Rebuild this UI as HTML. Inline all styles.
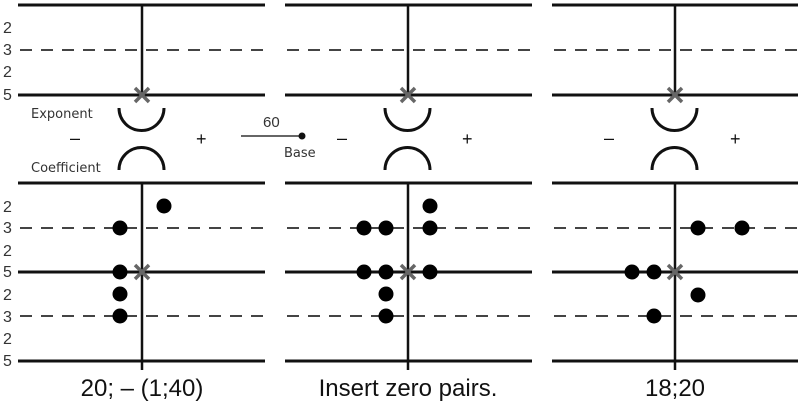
<!DOCTYPE html>
<html><head><meta charset="utf-8"><style>body{margin:0;background:#fff}svg{display:block}</style></head><body>
<svg width="800" height="407" viewBox="0 0 800 407" xmlns="http://www.w3.org/2000/svg" font-family="Liberation Sans, sans-serif">
<defs>
<g id="x"><path d="M-7,-7L7,7M7,-7L-7,7" stroke="#666" stroke-width="3.5"/></g>
</defs>
<g fill="#333" font-size="16">
<text x="3" y="33">2</text><text x="3" y="55">3</text><text x="3" y="77">2</text><text x="3" y="100">5</text>
<text x="3" y="212">2</text><text x="3" y="233">3</text><text x="3" y="256">2</text><text x="3" y="277">5</text>
<text x="3" y="300">2</text><text x="3" y="322">3</text><text x="3" y="344">2</text><text x="3" y="366">5</text>
</g>
<g stroke="#111" stroke-width="3">
<path d="M18,5H265M285,5H532M552,5H798M18,95H265M285,95H532M552,95H798M18,183H265M285,183H532M552,183H798M18,272H265M285,272H532M552,272H798M18,361H265M285,361H532M552,361H798"/>
</g>
<g stroke="#444" stroke-width="2" stroke-dasharray="12,9">
<path d="M20,50H265M287,50H532M554,50H798M20,228H265M287,228H532M554,228H798M20,316H265M287,316H532M554,316H798"/>
</g>
<g stroke="#111" stroke-width="2.5">
<path d="M142,5V95M408,5V95M675,5V95M142,183V370M408,183V370M675,183V370"/>
</g>
<g fill="none" stroke="#111" stroke-width="3">
<path d="M119,108A22,22 0 0 0 164,108M385,108A22,22 0 0 0 430,108M652,108A22,22 0 0 0 697,108"/>
<path d="M119,170A22,22 0 0 1 164,170M385,170A22,22 0 0 1 430,170M652,170A22,22 0 0 1 697,170"/>
</g>
<use href="#x" x="142" y="95"/><use href="#x" x="408" y="95"/><use href="#x" x="675" y="95"/>
<use href="#x" x="142" y="272"/><use href="#x" x="408" y="272"/><use href="#x" x="675" y="272"/>
<g fill="#111" font-size="18">
<text x="70" y="144">–</text><text x="196" y="145">+</text>
<text x="337" y="144">–</text><text x="462" y="145">+</text>
<text x="604" y="144">–</text><text x="730" y="145">+</text>
</g>
<g fill="#333" font-size="13" font-family="DejaVu Sans, sans-serif">
<text x="31" y="118">Exponent</text><text x="31" y="172">Coefficient</text>
<text x="284" y="157">Base</text>
</g>
<text x="263" y="127" font-size="15" fill="#333">60</text>
<path d="M241,136H302" stroke="#333" stroke-width="1.5"/>
<circle cx="302" cy="136" r="3.5" fill="#111"/>
<g fill="#000">
<circle cx="164" cy="206" r="7.5"/><circle cx="120" cy="228" r="7.5"/><circle cx="120" cy="272" r="7.5"/><circle cx="120" cy="294" r="7.5"/><circle cx="120" cy="316" r="7.5"/>
<circle cx="364" cy="228" r="7.5"/><circle cx="386" cy="228" r="7.5"/><circle cx="430" cy="206" r="7.5"/><circle cx="430" cy="228" r="7.5"/><circle cx="364" cy="272" r="7.5"/><circle cx="386" cy="272" r="7.5"/><circle cx="430" cy="272" r="7.5"/><circle cx="386" cy="294" r="7.5"/><circle cx="386" cy="316" r="7.5"/>
<circle cx="698" cy="228" r="7.5"/><circle cx="742" cy="228" r="7.5"/><circle cx="632" cy="272" r="7.5"/><circle cx="654" cy="272" r="7.5"/><circle cx="698" cy="295" r="7.5"/><circle cx="654" cy="316" r="7.5"/>
</g>
<g fill="#111" font-size="24" text-anchor="middle">
<text x="142" y="396">20; – (1;40)</text>
<text x="408" y="396">Insert zero pairs.</text>
<text x="675" y="396">18;20</text>
</g>
</svg>
</body></html>
